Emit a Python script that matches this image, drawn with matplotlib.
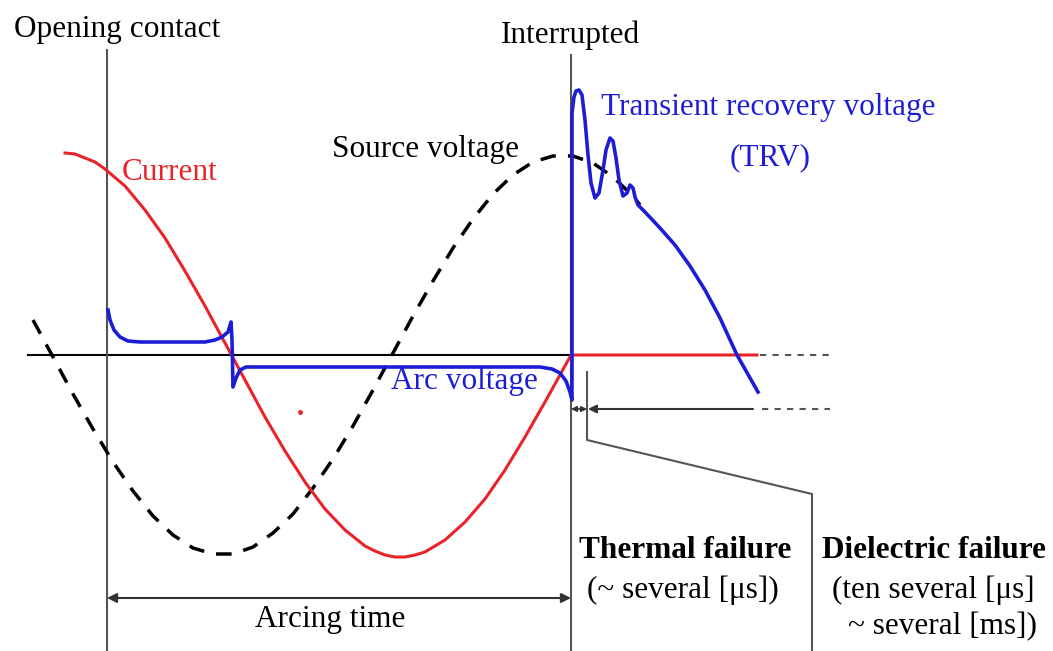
import matplotlib
matplotlib.use("Agg")
import matplotlib.pyplot as plt

# time axis is in arbitrary units, amplitude is relative to the zero line
# current (red)
cur_t = [65, 75, 85, 95, 105, 125, 145, 165, 185, 205, 225, 245, 265, 285,
         305, 325, 345, 365, 375, 385, 395, 405, 415, 425, 445, 465, 485, 505,
         525, 545, 571, 757]
cur_v = [202, 201, 197, 193, 186, 169, 145, 117, 84, 49, 12, -25, -62, -96,
         -127, -154, -175, -191, -196, -200, -202, -202, -200, -197, -185,
         -167, -144, -115, -82, -47, 0, 0]

# source voltage (black dashed)
src_t = [33, 53, 73, 93, 113, 133, 153, 173, 193, 213, 233, 253, 273, 293,
         313, 333, 353, 373, 393, 413, 433, 453, 473, 493, 513, 533, 553,
         573, 593, 613, 633, 640]
src_v = [35, -2, -39, -74, -107, -136, -161, -180, -193, -199, -199, -192,
         -178, -159, -133, -104, -71, -35, 2, 39, 74, 107, 136, 161, 180, 193,
         199, 199, 192, 178, 159, 150]

# arc voltage + transient recovery voltage (blue)
arc_t = [108, 110, 114, 120, 128, 140, 205, 215, 222, 228, 231, 232, 233,
         236, 240, 246, 300, 540, 552, 560, 566, 570, 572, 572, 574, 576,
         579, 582, 585, 588, 591, 595, 599, 603, 606, 610, 613, 616, 619,
         623, 627, 630, 633, 635, 638, 645, 660, 675, 690, 705, 720, 737, 758]
arc_v = [45, 35, 25, 18, 14, 13, 13, 15, 18, 23, 33, 15, -32, -23, -15, -12,
         -12, -12, -14, -18, -26, -37, -45, 242, 258, 264, 265, 260, 235, 200,
         172, 157, 162, 185, 205, 217, 214, 197, 175, 159, 162, 170, 167, 158,
         150, 143, 127, 110, 89, 65, 37, 0, -37]

t_open = 107
t_interrupt = 571

RED = "#e8232a"
BLUE = "#1d1dd6"
GREY = "#555555"
FS = 22.5

plt.rcParams["font.family"] = ["Liberation Serif", "DejaVu Serif"]

fig = plt.figure(figsize=(10.53, 6.51), dpi=100)
ax = fig.add_axes([0, 0, 1, 1])
ax.set_xlim(0, 1053)
ax.set_ylim(-296, 355)
ax.axis("off")

# zero line and guide lines
ax.plot([28, t_interrupt], [0, 0], color="black", lw=1.5, zorder=1)
ax.plot([760, 830], [0, 0], color=GREY, lw=1.5, ls=(0, (3, 3)))
ax.plot([762, 830], [-54, -54], color=GREY, lw=1.5, ls=(0, (3, 3)))
ax.axvline(t_open, ymin=0, ymax=(305 + 296) / 651, color=GREY, lw=1.5, zorder=1)
ax.axvline(t_interrupt, ymin=0, ymax=(300 + 296) / 651, color=GREY, lw=1.5, zorder=1)

# waveforms
ax.plot(src_t, src_v, color="black", lw=2.5, ls=(0, (4.5, 3.5)), zorder=2)
ax.plot(cur_t, cur_v, color=RED, lw=2.2, zorder=3)
ax.plot(arc_t, arc_v, color=BLUE, lw=2.6, zorder=4, solid_joinstyle="round")
ax.plot([300], [-57], "o", color=RED, ms=2.5)

# arcing time arrow
ax.annotate("", xy=(t_open, -243), xytext=(t_interrupt, -243),
            arrowprops=dict(arrowstyle="<|-|>", color="#333333", lw=1.5,
                            mutation_scale=14, shrinkA=0, shrinkB=0))
ax.text(330, -265, "Arcing time", ha="center", va="center", fontsize=FS)

# thermal / dielectric markers
ax.plot([587, 587, 812, 812], [-17, -85, -139, -296], color=GREY, lw=1.5)
ax.annotate("", xy=(588, -54), xytext=(753, -54),
            arrowprops=dict(arrowstyle="-|>", color="#333333", lw=1.5,
                            mutation_scale=12, shrinkA=0, shrinkB=0))
ax.annotate("", xy=(t_interrupt, -54), xytext=(587, -54),
            arrowprops=dict(arrowstyle="<|-|>", color="#333333", lw=1.2,
                            mutation_scale=8, shrinkA=0, shrinkB=0))

# labels
ax.text(117, 325, "Opening contact", ha="center", va="center", fontsize=FS)
ax.text(570, 320, "Interrupted", ha="center", va="center", fontsize=FS)
ax.text(170, 183, "Current", ha="center", va="center", fontsize=FS, color=RED)
ax.text(426, 205, "Source voltage", ha="center", va="center", fontsize=FS)
ax.text(768, 247, "Transient recovery voltage", ha="center", va="center",
        fontsize=FS, color=BLUE)
ax.text(770, 197, "(TRV)", ha="center", va="center", fontsize=FS, color=BLUE)
ax.text(464, -26, "Arc voltage", ha="center", va="center", fontsize=FS, color=BLUE)
ax.text(685, -195, "Thermal failure", ha="center", va="center", fontsize=FS,
        fontweight="bold")
ax.text(683, -235, "(~ several [\u03bcs])", ha="center", va="center", fontsize=FS)
ax.text(934, -195, "Dielectric failure", ha="center", va="center", fontsize=FS,
        fontweight="bold")
ax.text(933, -235, "(ten several [\u03bcs]", ha="center", va="center", fontsize=FS)
ax.text(943, -272, "~ several [ms])", ha="center", va="center", fontsize=FS)

fig.savefig("out.png", dpi=100)
